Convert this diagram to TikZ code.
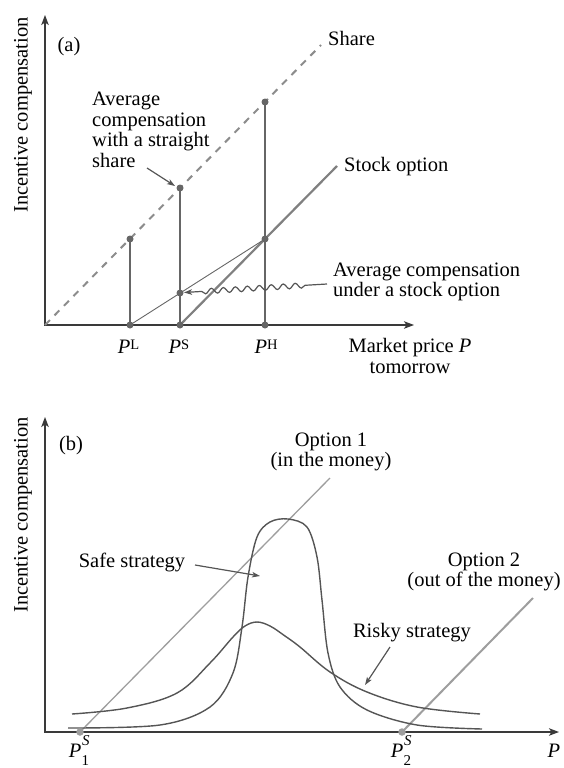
\documentclass[tikz,border=0pt]{standalone}
\usepackage{fontspec}
\setmainfont{Liberation Serif}
\usetikzlibrary{arrows.meta,decorations.pathmorphing}
\definecolor{axiscol}{HTML}{3A3A3A}
\definecolor{lncol}{HTML}{666666}
\definecolor{dashcol}{HTML}{8C8C8C}
\definecolor{optcol}{HTML}{808080}
\definecolor{lightcol}{HTML}{9E9E9E}
\definecolor{crvcol}{HTML}{555555}
\newcommand{\PA}[1]{\textit{P}\raisebox{4pt}{\fontsize{14.5}{14.5}\selectfont #1}}
\newcommand{\PB}[2]{\textit{P}\makebox[0pt][l]{\kern0.5pt\raisebox{12pt}{\fontsize{15}{15}\selectfont\textit{#1}}}\raisebox{-8pt}{\fontsize{15}{15}\selectfont #2}}
\begin{document}
\begin{tikzpicture}[x=1pt,y=-1pt,font=\fontsize{20.5}{20.5}\selectfont,
  axisline/.style={draw=axiscol,line width=1.3pt,{Stealth[length=10pt,width=7.5pt,inset=2.5pt]}-{Stealth[length=10pt,width=7.5pt,inset=2.5pt]}},
  dot/.style={circle,fill=lncol,inner sep=0pt,minimum size=7pt},
  ldot/.style={circle,fill=lightcol,inner sep=0pt,minimum size=7.5pt},
  thinln/.style={draw=lncol,line width=1.1pt},
  sharestyle/.style={draw=dashcol,line width=2pt,dash pattern=on 7pt off 6.5pt},
  stockstyle/.style={draw=optcol,line width=2.2pt},
  optone/.style={draw=lightcol,line width=1.3pt},
  opttwo/.style={draw=lightcol,line width=2pt},
  crv/.style={draw=crvcol,line width=1.4pt},
  annot/.style={draw=crvcol,line width=1.2pt,-{Stealth[length=8pt,width=5.5pt,inset=2pt]}},
  lbl/.style={inner sep=0pt}]
\useasboundingbox (0,0) rectangle (563,768);
% ---------------- panel (a)
\coordinate (Oa) at (45,325);
\coordinate (yA) at (45,15);
\coordinate (xA) at (414,325);
\draw[axisline] (yA) -- (Oa) -- (xA);
\coordinate (cL) at (130,325);
\coordinate (cS) at (180,325);
\coordinate (cH) at (265,325);
\coordinate (sL) at (130,239);
\coordinate (sS) at (180,188);
\coordinate (sH) at (265,102);
\coordinate (oH) at (265,239);
\coordinate (avg) at (180,293);
\coordinate (shareEnd) at (321,45);
\coordinate (soEnd) at (337,166);
\draw[sharestyle] (Oa) -- (shareEnd);
\draw[stockstyle] (cS) -- (soEnd);
\draw[draw=lncol,line width=0.9pt] (cL) -- (oH);
\draw[thinln] (cL) -- (sL);
\draw[thinln] (cS) -- (sS);
\draw[thinln] (cH) -- (sH);
\foreach \p in {cL,cS,cH,sL,sS,sH,oH,avg} \node[dot] (d\p) at (\p) {};
\node[lbl,anchor=base west] (shareT) at (328,46) {Share};
\node[lbl,anchor=base west] (soT) at (344,171) {Stock option};
\node[lbl,anchor=west,align=left] (avgT) at (333,282) {Average compensation\\under a stock option};
\node[lbl,anchor=west,align=left] (avgSh) at (92,130) {Average\\compensation\\with a straight\\share};
\node[lbl] (labA) at (69,47) {(a)};
\node[lbl,rotate=90] (ylA) at (23,115) {Incentive compensation};
\node[lbl,anchor=base] (tL) at (128.5,353) {\PA{L}};
\node[lbl,anchor=base] (tS) at (179,353) {\PA{S}};
\node[lbl,anchor=base] (tH) at (266,353) {\PA{H}};
\node[lbl,align=center] (xlA) at (410,356) {Market price \textit{P}\\tomorrow};
\coordinate (shTail) at (147,168);
\coordinate (shTip) at (175,186);
\draw[annot] (shTail) -- (shTip);
\coordinate (wavStart) at (327,284);
\coordinate (wavTip) at (184,292.5);
\draw[annot,decorate,decoration={snake,amplitude=2.6pt,segment length=12pt,pre length=22pt,post length=16pt}] (wavStart) -- (wavTip);
% ---------------- panel (b)
\coordinate (Ob) at (45,732);
\coordinate (yB) at (45,417);
\coordinate (xB) at (559,732);
\draw[axisline] (yB) -- (Ob) -- (xB);
\coordinate (p1) at (80,732);
\coordinate (o1End) at (330,478);
\coordinate (p2) at (402,732);
\coordinate (o2End) at (533,598);
\draw[optone] (p1) -- (o1End);
\draw[opttwo] (p2) -- (o2End);
\draw[crv] plot[smooth,tension=0.55] coordinates {(68,728) (160,725) (210,707) (233,673) (242,627) (248,577) (257,537) (270,522) (288,519) (307,527) (317,557) (322,600) (328,653) (340,687) (367,710) (417,725) (482,729)};
\draw[crv] plot[smooth,tension=0.6] coordinates {(72,714) (127,708) (177,693) (210,663) (233,637) (245,626) (257,622) (270,626) (285,636) (300,647) (330,672) (367,692) (417,707) (480,714)};
\node[ldot] (dp1) at (p1) {};
\node[ldot] (dp2) at (p2) {};
\node[lbl,align=center] (o1T) at (331,452) {Option 1\\(in the money)};
\node[lbl,align=center] (o2T) at (484,572) {Option 2\\(out of the money)};
\node[lbl,anchor=base] (riskT) at (412,637) {Risky strategy};
\node[lbl,anchor=base] (safeT) at (132,567) {Safe strategy};
\node[lbl] (labB) at (71,446) {(b)};
\node[lbl,rotate=90] (ylB) at (23,515) {Incentive compensation};
\node[lbl,anchor=base] (P1) at (79,757) {\PB{S}{1}};
\node[lbl,anchor=base] (P2) at (401,757) {\PB{S}{2}};
\node[lbl,anchor=base] (PP) at (554,757) {\textit{P}};
\coordinate (safeTail) at (195,565);
\coordinate (safeTip) at (260,576);
\draw[annot] (safeTail) -- (safeTip);
\coordinate (riskTail) at (390,647);
\coordinate (riskTip) at (365,685);
\draw[annot] (riskTail) -- (riskTip);
\end{tikzpicture}
\end{document}
